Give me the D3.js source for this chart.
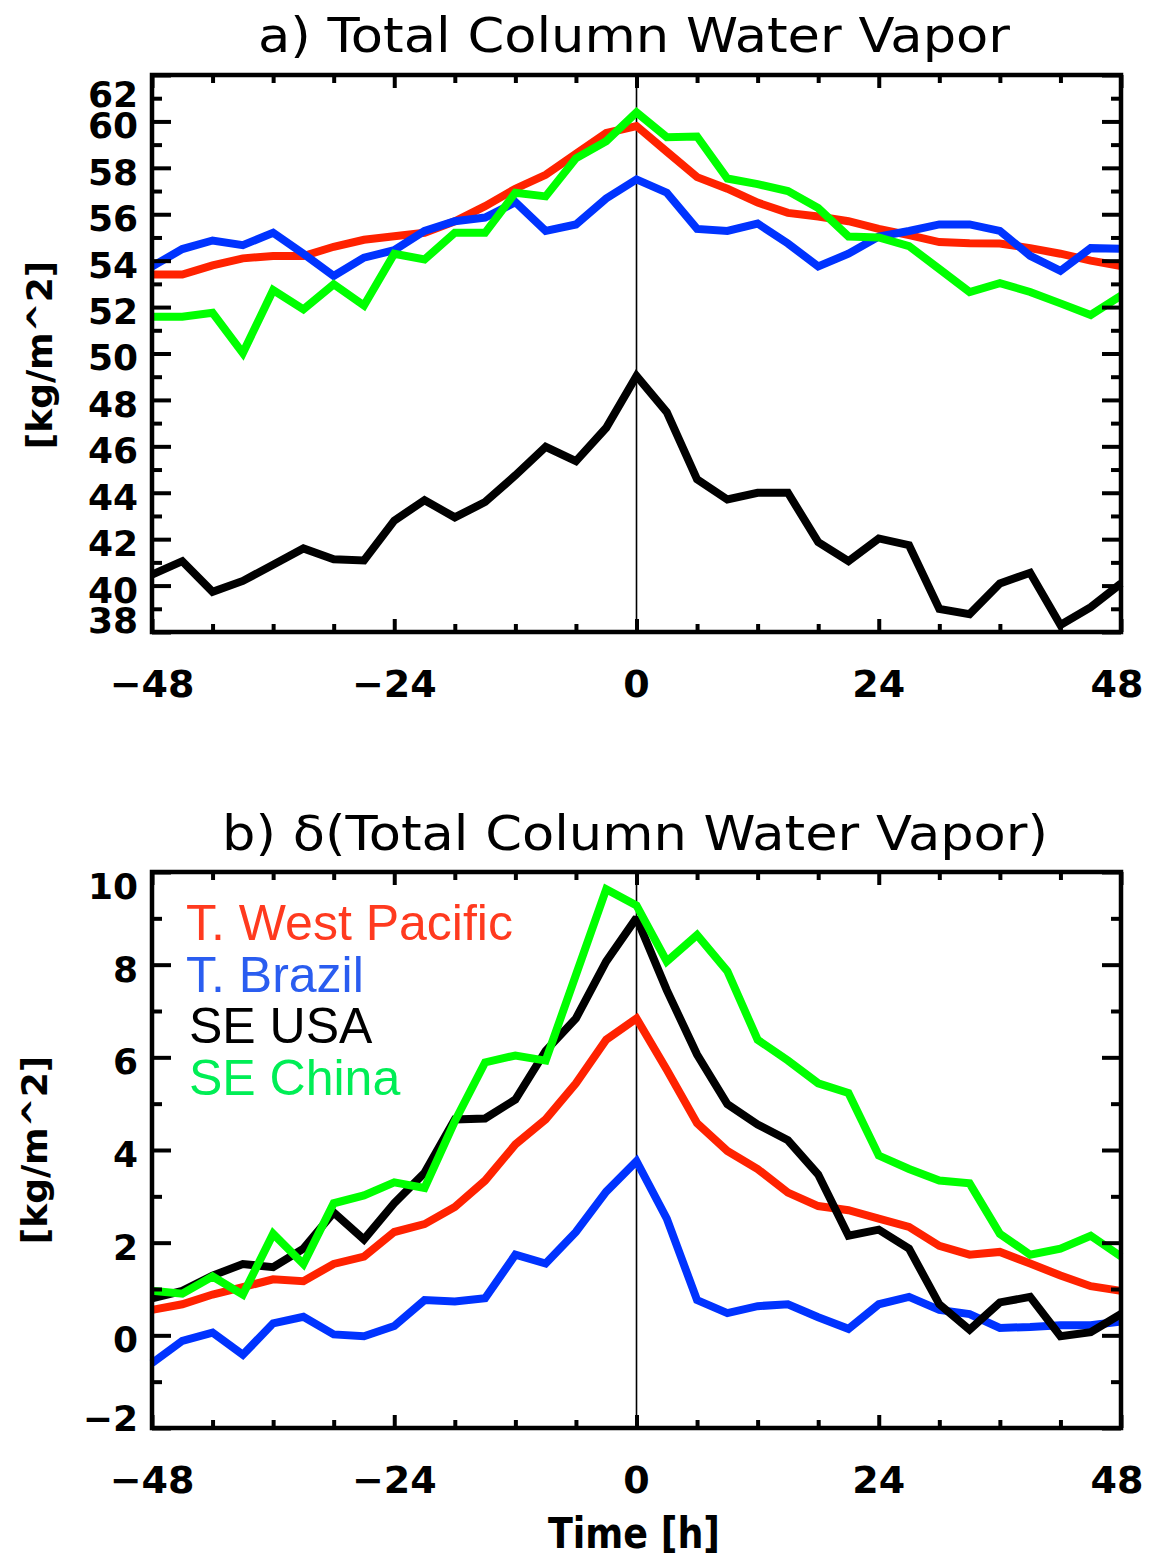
<!DOCTYPE html>
<html><head><meta charset="utf-8">
<script src="https://cdn.jsdelivr.net/npm/d3@7"></script>
<style>body{margin:0;background:#fff}</style>
</head><body><svg id="c" width="1150" height="1564"></svg>
<script>
const hours = [-48,-45,-42,-39,-36,-33,-30,-27,-24,-21,-18,-15,-12,-9,-6,-3,0,3,6,9,12,15,18,21,24,27,30,33,36,39,42,45,48];
const seriesNames = ["T. West Pacific","T. Brazil","SE USA","SE China"];
const lineColors = ["#ff2200","#0033ff","#000000","#00ff00"];
const legendColors = ["#ff3a1f","#2a5df0","#000000","#00ee55"];

// Panel a: Total Column Water Vapor [kg/m^2]
const tcwvWestPacific = [53.4,53.4,53.8,54.1,54.2,54.2,54.6,54.9,55.05,55.2,55.7,56.35,57.1,57.7,58.6,59.5,59.8,58.7,57.6,57.1,56.5,56.06,55.9,55.7,55.37,55.1,54.8,54.75,54.74,54.54,54.3,54.0,53.77];
const tcwvBrazil = [53.75,54.5,54.87,54.67,55.2,54.3,53.34,54.13,54.45,55.28,55.7,55.86,56.52,55.28,55.56,56.68,57.5,56.93,55.37,55.28,55.6,54.74,53.75,54.3,55.04,55.28,55.56,55.56,55.28,54.21,53.56,54.54,54.51];
const tcwvSEUSA = [40.47,41.05,39.73,40.2,40.9,41.6,41.13,41.08,42.8,43.68,42.94,43.6,44.75,45.98,45.36,46.8,49.03,47.47,44.58,43.71,44.0,44.0,41.87,41.05,42.03,41.74,38.99,38.77,40.09,40.55,38.3,39.07,40.09];
const tcwvSEChina = [51.58,51.58,51.75,50.02,52.73,51.9,52.98,52.07,54.3,54.05,55.2,55.2,56.93,56.77,58.41,59.15,60.39,59.32,59.35,57.54,57.3,57.0,56.27,55.04,55.0,54.63,53.64,52.65,53.03,52.65,52.16,51.66,52.49];

// Panel b: delta(Total Column Water Vapor) [kg/m^2]
const dWestPacific = [0.55,0.67,0.88,1.04,1.21,1.17,1.54,1.70,2.23,2.4,2.77,3.34,4.12,4.66,5.44,6.38,6.84,5.73,4.58,3.98,3.59,3.08,2.79,2.7,2.52,2.34,1.93,1.74,1.8,1.55,1.29,1.06,0.96];
const dBrazil = [-0.6,-0.12,0.06,-0.42,0.26,0.4,0.02,-0.02,0.2,0.76,0.73,0.8,1.74,1.55,2.23,3.1,3.76,2.52,0.76,0.48,0.63,0.67,0.39,0.14,0.67,0.83,0.55,0.46,0.16,0.18,0.22,0.22,0.3];
const dSEUSA = [0.8,0.96,1.29,1.54,1.47,1.87,2.65,2.07,2.85,3.51,4.66,4.68,5.09,6.14,6.84,8.07,9.01,7.45,6.06,4.99,4.55,4.21,3.47,2.15,2.28,1.87,0.67,0.12,0.71,0.83,-0.02,0.07,0.46];
const dSEChina = [0.96,0.9,1.27,0.88,2.19,1.54,2.85,3.02,3.3,3.18,4.62,5.89,6.04,5.93,7.78,9.63,9.28,8.07,8.64,7.86,6.38,5.93,5.44,5.23,3.88,3.59,3.34,3.28,2.19,1.74,1.87,2.15,1.7];

const xMajorTicks = [-48,-24,0,24,48];
const xMinorTicks = [-42,-36,-30,-18,-12,-6,6,12,18,30,36,42];
const yMajorA = [38,40,42,44,46,48,50,52,54,56,58,60,62];
const yMinorA = [39,41,43,45,47,49,51,53,55,57,59,61];
const yMajorB = [-2,0,2,4,6,8,10];
const yMinorB = [-1,1,3,5,7,9];

const titleA = "a) Total Column Water Vapor";
const titleB = "b) δ(Total Column Water Vapor)";
const yLabel = "[kg/m^2]";
const xLabel = "Time [h]";

const svg = d3.select("#c");
const L = 152, R = 1121;
const x = d3.scaleLinear().domain([-48,48]).range([L,R]);

function panel(cfg){
  const y = d3.scaleLinear().domain(cfg.domain).range([cfg.bottom, cfg.top]);
  const g = svg.append("g");
  g.append("line").attr("x1",x(0)).attr("x2",x(0)).attr("y1",cfg.top).attr("y2",cfg.bottom)
    .attr("stroke","#000").attr("stroke-width",1.6);
  const line = d3.line().x((d,i)=>x(hours[i])).y(d=>y(d));
  cfg.series.forEach((s,k)=>{
    g.append("path").datum(s).attr("d",line).attr("fill","none")
      .attr("stroke",lineColors[k]).attr("stroke-width",8)
      .attr("stroke-linejoin","miter").attr("stroke-miterlimit",2);
  });
  const mk = (axisFn, scale, vals, size, tr) => g.append("g").attr("transform",tr)
      .call(axisFn(scale).tickValues(vals).tickSize(size).tickFormat(""))
      .call(a=>{a.select(".domain").remove(); a.selectAll("line").attr("stroke-width",4);});
  mk(d3.axisLeft, y, cfg.yMajor, -19, `translate(${L},0)`);
  mk(d3.axisLeft, y, cfg.yMinor, -10, `translate(${L},0)`);
  mk(d3.axisRight, y, cfg.yMajor, -19, `translate(${R},0)`);
  mk(d3.axisRight, y, cfg.yMinor, -10, `translate(${R},0)`);
  mk(d3.axisBottom, x, xMajorTicks, -13, `translate(0,${cfg.bottom})`);
  mk(d3.axisBottom, x, xMinorTicks, -8, `translate(0,${cfg.bottom})`);
  mk(d3.axisTop, x, xMajorTicks, -13, `translate(0,${cfg.top})`);
  mk(d3.axisTop, x, xMinorTicks, -8, `translate(0,${cfg.top})`);
  g.append("rect").attr("x",L).attr("y",cfg.top).attr("width",R-L).attr("height",cfg.bottom-cfg.top)
    .attr("fill","none").attr("stroke","#000").attr("stroke-width",4.5);
  g.selectAll("text.yl").data(cfg.yMajor).join("text")
    .attr("x",L-14)
    .attr("y",d=>{ let yy=y(d)+4; if (d===cfg.domain[1]) yy=cfg.top+cfg.topOff; if (d===cfg.domain[0]) yy=cfg.bottom-cfg.botOff; return yy; })
    .attr("dy","0.36em").attr("text-anchor","end")
    .attr("font-family","DejaVu Sans").attr("font-weight","bold").attr("font-size",cfg.yFont)
    .text(d=> d<0 ? "\u2212"+Math.abs(d) : d);
  g.selectAll("text.xl").data(xMajorTicks).join("text")
    .attr("x",d=> d===48 ? x(d)-4 : x(d)).attr("y",cfg.bottom+65)
    .attr("text-anchor","middle")
    .attr("font-family","DejaVu Sans").attr("font-weight","bold").attr("font-size",38)
    .text(d=> d<0 ? "\u2212"+Math.abs(d) : d);
  g.append("text").attr("x",cfg.titleX).attr("y",cfg.titleY).attr("text-anchor","middle")
    .attr("font-family","DejaVu Sans").attr("font-size",48)
    .attr("textLength",cfg.titleW).attr("lengthAdjust","spacingAndGlyphs")
    .text(cfg.title);
  g.append("text").attr("transform",`translate(${cfg.ylx},${cfg.yly}) rotate(-90)`)
    .attr("text-anchor","middle").attr("font-family","DejaVu Sans").attr("font-weight","bold")
    .attr("font-size",36).text(yLabel);
  return y;
}

panel({domain:[38,62], top:75, bottom:632, yMajor:yMajorA, yMinor:yMinorA,
  series:[tcwvWestPacific,tcwvBrazil,tcwvSEUSA,tcwvSEChina],
  topOff:19, botOff:12, yFont:36,
  title:titleA, titleX:634, titleY:52, titleW:752, ylx:52, yly:355});

panel({domain:[-2,10], top:872, bottom:1428, yMajor:yMajorB, yMinor:yMinorB,
  series:[dWestPacific,dBrazil,dSEUSA,dSEChina],
  topOff:14, botOff:10, yFont:36,
  title:titleB, titleX:635, titleY:850, titleW:826, ylx:47, yly:1150});

svg.append("g").selectAll("text").data(seriesNames).join("text")
  .attr("x",(d,i)=> i<2 ? 186 : 189).attr("y",(d,i)=>940+i*51.5)
  .attr("font-family","Liberation Sans").attr("font-size",50)
  .attr("fill",(d,i)=>legendColors[i]).text(d=>d);

svg.append("text").attr("x",634).attr("y",1548).attr("text-anchor","middle")
  .attr("font-family","DejaVu Sans").attr("font-weight","bold").attr("font-size",42)
  .attr("textLength",172).attr("lengthAdjust","spacingAndGlyphs").text(xLabel);
</script></body></html>
